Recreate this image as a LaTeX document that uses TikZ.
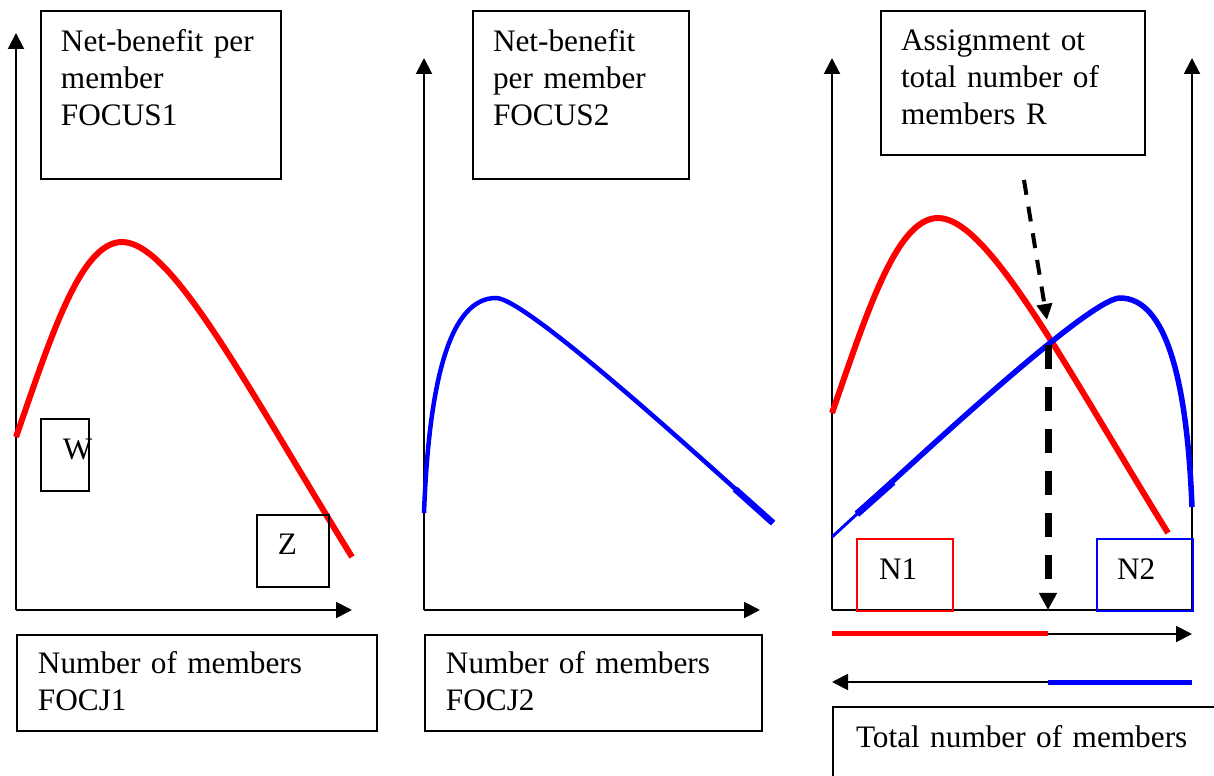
\documentclass[tikz,border=0pt]{standalone}
\usepackage{fontspec}
\setmainfont{Liberation Serif}
\usetikzlibrary{calc,arrows.meta}

\begin{document}
\begin{tikzpicture}[
    x=0.02cm, y=-0.02cm,
    font=\fontsize{17.8}{21}\selectfont,
    line width=0.04cm
  ]
\def\px{0.02cm}

\useasboundingbox (0,0) rectangle (1214,776);
\clip (0,0) rectangle (1214,776);

\tikzstyle{lbl}=[draw,anchor=north west,align=left,inner ysep=0pt,line width=2*\px]
\tikzstyle{ax}=[-{Triangle[length=16*\px,width=16*\px]}]
\tikzstyle{redc}=[draw=red,line width=6*\px]
\tikzstyle{bluec}=[draw=blue,line width=4.5*\px]
\tikzstyle{dsh}=[dash pattern=on 15*\px off 12*\px,line width=4*\px,-{Triangle[length=16*\px,width=15*\px]}]
\tikzstyle{bigdsh}=[dash pattern=on 24*\px off 18*\px,line width=7*\px,-{Triangle[length=17*\px,width=17*\px]}]

% panel FOCJ1
\node[lbl,text width=4cm,inner xsep=0.4cm,text height=0.82cm,text depth=2.54cm] (nb1) at (40,10) {Net-benefit per\\member\\FOCUS1};
\node[lbl,text width=6.36cm,inner xsep=0.42cm,text height=0.78cm,text depth=1.14cm] (nm1) at (16,634) {Number of members\\FOCJ1};
\coordinate (o1) at (16,610);
\coordinate (y1) at (16,33);
\coordinate (x1) at (352,610);
\draw[ax] (o1) -- (y1);
\draw[ax] (o1) -- (x1);
\draw[redc] (16,437) .. controls (50,340) and (80,242) .. (122,242) .. controls (172,242) and (247,387) .. (352,557);
\node[lbl,text width=0.08cm,inner xsep=0.44cm,text height=0.82cm,text depth=0.62cm] (w) at (40,418) {W};
\node[lbl,text width=0.6cm,inner xsep=0.42cm,text height=0.8cm,text depth=0.64cm] (z) at (256,514) {Z};

% panel FOCJ2
\node[lbl,text width=3.52cm,inner xsep=0.4cm,text height=0.82cm,text depth=2.54cm] (nb2) at (472,10) {Net-benefit\\per member\\FOCUS2};
\node[lbl,text width=5.9cm,inner xsep=0.42cm,text height=0.78cm,text depth=1.14cm] (nm2) at (424,634) {Number of members\\FOCJ2};
\coordinate (o2) at (424,610);
\coordinate (y2) at (424,58);
\coordinate (x2) at (760,610);
\draw[ax] (o2) -- (y2);
\draw[ax] (o2) -- (x2);
\draw[bluec] (424,513) .. controls (429,380) and (450,298) .. (496,298) .. controls (525,298) and (690,448) .. (773,523);
\draw[bluec,line width=6.5*\px] (735,489) -- (773,523);

% assignment of R
\node[lbl,text width=4.48cm,inner xsep=0.4cm,text height=0.8cm,text depth=2.08cm] (assign) at (880,10) {Assignment ot\\total number of\\members R};
\node[lbl,text width=7.48cm,inner xsep=0.46cm,text height=0.82cm,text depth=1.18cm] (total) at (832,706) {Total number of members};
\coordinate (o3) at (832,610);
\coordinate (y3) at (832,58);
\coordinate (o4) at (1192,610);
\coordinate (y4) at (1192,58);
\draw[ax] (o3) -- (y3);
\draw[ax] (o4) -- (y4);
\draw (o3) -- (o4);

\draw[redc] (832,413) .. controls (866,316) and (896,218) .. (938,218) .. controls (988,218) and (1063,363) .. (1168,533);
\draw[bluec,line width=5.5*\px] (1192,507) .. controls (1187,380) and (1166,298) .. (1120,298) .. controls (1091,298) and (935,442) .. (857,514);
\draw[bluec,line width=3*\px] (832,537) -- (857,514);
\draw[bluec,line width=7*\px] (857,514) -- (893,482);

\node[lbl,draw=red,text width=1.04cm,inner xsep=0.44cm,text height=0.82cm,text depth=0.62cm] (n1) at (856,538) {N1};
\node[lbl,draw=blue,text width=1.12cm,inner xsep=0.4cm,text height=0.82cm,text depth=0.62cm] (n2) at (1096,538) {N2};

\coordinate (r1) at ($(assign.south)+(11,24)$);
\coordinate (cross) at (1047,320);
\coordinate (top) at (1048,345);
\coordinate (bot) at (1048,610);
\draw[dsh] (r1) -- (cross);
\draw[bigdsh] (top) -- (bot);

% split of the members
\coordinate (s1) at (832,634);
\coordinate (m1) at (1048,634);
\coordinate (e1) at (1192,634);
\coordinate (s2) at (1192,682);
\coordinate (m2) at (1048,682);
\coordinate (e2) at (832,682);
\draw[ax] (s1) -- (e1);
\draw[red,line width=5*\px] (s1) -- (m1);
\draw[ax] (s2) -- (e2);
\draw[blue,line width=5*\px] (s2) -- (m2);

\end{tikzpicture}
\end{document}
